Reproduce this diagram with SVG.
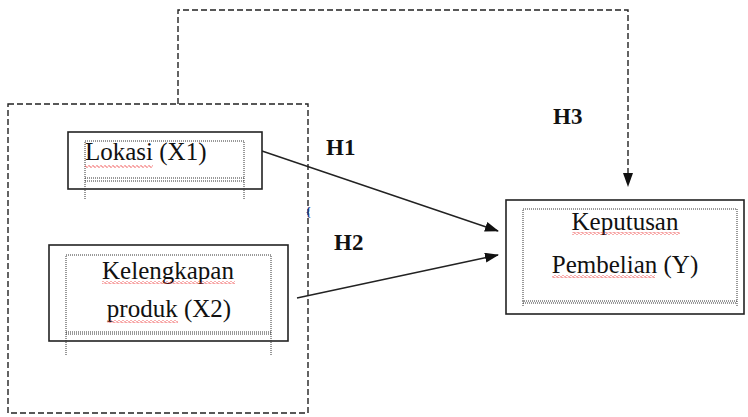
<svg xmlns="http://www.w3.org/2000/svg" width="748" height="417" viewBox="0 0 748 417">
<defs>
<style>
.outer{fill:#fff;stroke:#222;stroke-width:1.6}
.inner{fill:none;stroke:#333;stroke-width:1;stroke-dasharray:1 1}
.dash{fill:none;stroke:#222;stroke-width:1.4;stroke-dasharray:6 3}
.conn{fill:none;stroke:#222;stroke-width:1.4}
.t{font-family:"Liberation Serif","Times New Roman",serif;font-size:25px;fill:#111}
.h{font-family:"Liberation Serif","Times New Roman",serif;font-size:23px;font-weight:bold;fill:#111}
.wave{fill:url(#wv)}
</style>
<pattern id="wv" patternUnits="userSpaceOnUse" width="4" height="3">
<path d="M0 1.5 L1 0.5 L3 2.5 L4 1.5" fill="none" stroke="#e33" stroke-width="0.9"/>
</pattern>
<marker id="ah" markerWidth="14" markerHeight="10" refX="13" refY="5" orient="auto" markerUnits="userSpaceOnUse">
<path d="M0 0 L14 5 L0 10 Z" fill="#111"/>
</marker>
</defs>
<rect width="748" height="417" fill="#fff"/>

<g id="connectors">
<rect class="dash" x="8" y="104" width="300" height="309"/>
<path class="dash" d="M178 104 V10 H628 V186" marker-end="url(#ah)"/>
<path class="conn" d="M262 151 L498 231" marker-end="url(#ah)"/>
<path class="conn" d="M297 298 L498 255" marker-end="url(#ah)"/>
</g>

<g id="x1">
<rect class="outer" x="68" y="132" width="194" height="57"/>
<rect class="inner" x="85" y="141" width="159" height="37"/>
<line class="inner" x1="85" y1="181" x2="244" y2="181"/>
<line class="inner" x1="85" y1="178" x2="85" y2="200"/>
<line class="inner" x1="244" y1="178" x2="244" y2="200"/>
<text class="t" x="85" y="160">Lokasi (X1)</text>
<rect class="wave" x="85" y="165" width="68" height="3"/>
</g>

<g id="x2">
<rect class="outer" x="49" y="245" width="239" height="96"/>
<rect class="inner" x="66" y="255" width="205" height="77"/>
<line class="inner" x1="66" y1="334" x2="271" y2="334"/>
<line class="inner" x1="66" y1="332" x2="66" y2="355"/>
<line class="inner" x1="271" y1="332" x2="271" y2="355"/>
<text class="t" x="168" y="279" text-anchor="middle">Kelengkapan</text>
<rect class="wave" x="102" y="281" width="133" height="3"/>
<text class="t" x="169" y="317" text-anchor="middle">produk (X2)</text>
<rect class="wave" x="107" y="320" width="71" height="3"/>
</g>

<g id="y">
<rect class="outer" x="506" y="200" width="238" height="114"/>
<rect class="inner" x="523" y="209" width="214" height="92"/>
<line class="inner" x1="523" y1="303" x2="737" y2="303"/>
<line class="inner" x1="523" y1="301" x2="523" y2="307"/>
<line class="inner" x1="737" y1="301" x2="737" y2="307"/>
<text class="t" x="625" y="230" text-anchor="middle">Keputusan</text>
<rect class="wave" x="572" y="232" width="108" height="3"/>
<text class="t" x="625" y="273" text-anchor="middle">Pembelian (Y)</text>
<rect class="wave" x="552" y="275" width="103" height="3"/>
</g>

<g id="labels">
<text class="h" x="326" y="155">H1</text>
<text class="h" x="334" y="250">H2</text>
<text class="h" x="553" y="124">H3</text>
<text x="306" y="216" font-family="Liberation Serif,serif" font-size="12" font-weight="bold" fill="#1a3a8a">{</text>
</g>
</svg>
